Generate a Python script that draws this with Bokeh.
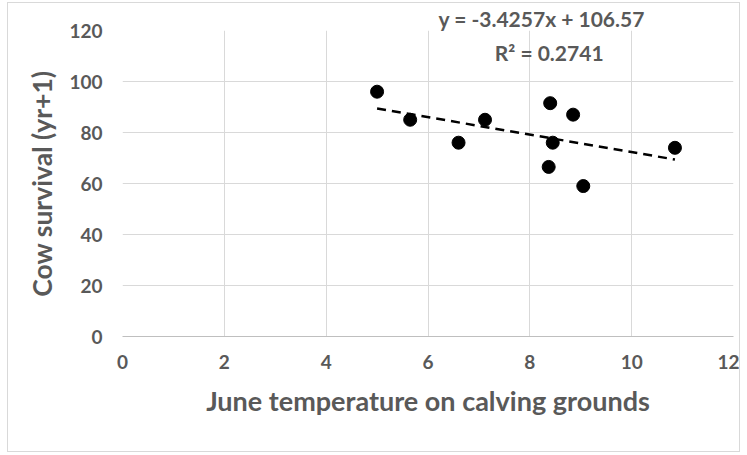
from bokeh.plotting import figure
from bokeh.models import FixedTicker, Label, Range1d
from bokeh.embed import file_html
from bokeh.resources import INLINE

# Data
june_temp = [5.0, 5.65, 6.6, 7.12, 8.4, 8.85, 8.45, 8.37, 9.05, 10.85]
cow_survival = [96, 85, 76, 85, 91.5, 87, 76, 66.5, 59, 74]

trend_slope = -3.4257
trend_intercept = 106.57
equation_text = "y = -3.4257x + 106.57"
r2_text = "R\u00b2 = 0.2741"

x_ticks = [0, 2, 4, 6, 8, 10, 12]
y_ticks = [0, 20, 40, 60, 80, 100, 120]

x_label = "June temperature on calving grounds"
y_label = "Cow survival (yr+1)"

FONT = "Lato"
GRAY = "#595959"
GRID = "#d9d9d9"

p = figure(width=733, height=450, output_backend="svg", toolbar_location=None,
           x_range=Range1d(0, 12), y_range=Range1d(0, 120),
           min_border_left=114, min_border_right=8, min_border_top=18, min_border_bottom=117)
p.styles = {"margin-left": "7px", "margin-top": "2px", "border": "1px solid #d9d9d9"}
p.outline_line_color = None
p.background_fill_color = "white"
p.border_fill_color = "white"

# regression equation shown above the plot area
p.title.text = equation_text
p.title.align = "left"
p.title.offset = 316
p.title.standoff = 0
p.title.text_font = FONT
p.title.text_font_style = "bold"
p.title.text_font_size = "21px"
p.title.text_color = GRAY

p.xaxis.ticker = FixedTicker(ticks=x_ticks)
p.yaxis.ticker = FixedTicker(ticks=y_ticks)
p.xgrid.ticker = FixedTicker(ticks=x_ticks)
p.ygrid.ticker = FixedTicker(ticks=y_ticks)
p.grid.grid_line_color = GRID
p.grid.grid_line_width = 1

for ax in (p.xaxis, p.yaxis):
    ax.major_tick_line_color = None
    ax.minor_tick_line_color = None
    ax.major_tick_out = 0
    ax.major_tick_in = 0
    ax.major_label_text_font = FONT
    ax.major_label_text_font_style = "bold"
    ax.major_label_text_font_size = "19px"
    ax.major_label_text_color = GRAY
    ax.axis_label_text_font = FONT
    ax.axis_label_text_font_style = "bold"
    ax.axis_label_text_color = GRAY
p.xaxis.axis_label_text_font_size = "27px"
p.yaxis.axis_label_text_font_size = "26.5px"
p.xaxis.axis_line_color = "#bfbfbf"
p.yaxis.axis_line_color = None
p.xaxis.axis_label = x_label
p.yaxis.axis_label = y_label
p.xaxis.major_label_standoff = 18
p.yaxis.major_label_standoff = 20
p.xaxis.axis_label_standoff = 12
p.yaxis.axis_label_standoff = 8

# trendline from the fitted equation over the data's x extent
x0, x1 = min(june_temp), max(june_temp)
p.line([x0, x1], [trend_slope * x0 + trend_intercept, trend_slope * x1 + trend_intercept],
       line_color="black", line_width=2.5, line_dash="9 6")

p.scatter(june_temp, cow_survival, size=13, marker="circle", fill_color="black", line_color="black")

p.add_layout(Label(x=8.38, y=111.4, text=r2_text, text_align="center", text_baseline="middle",
                   text_font=FONT, text_font_style="bold", text_font_size="21px", text_color=GRAY))

open("out.html", "w").write(file_html(p, INLINE))
